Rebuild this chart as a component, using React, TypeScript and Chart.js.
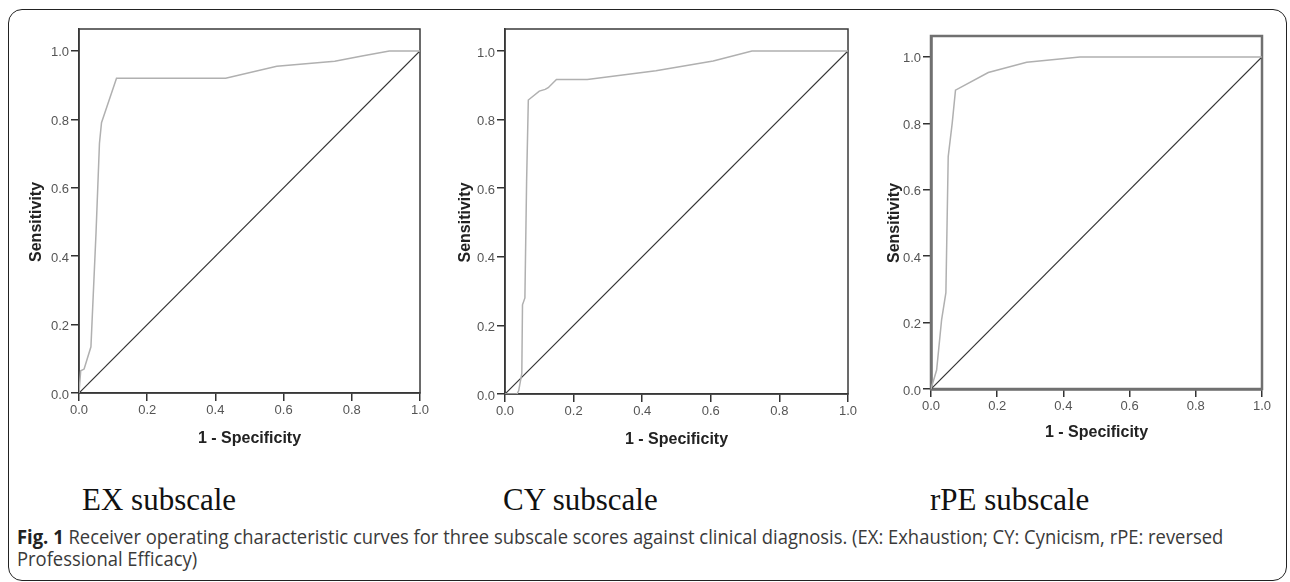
import React, { useEffect, useRef } from "react";
import { Chart, registerables } from "chart.js";

Chart.register(...registerables);

// ---- data ----
const X_TICKS = [0, 0.2, 0.4, 0.6, 0.8, 1.0];
const Y_TICKS = [0, 0.2, 0.4, 0.6, 0.8, 1.0];
const REF_LINE = [0, 1];

const EX_FPR = [0, 0.005, 0.015, 0.035, 0.05, 0.06, 0.066, 0.11, 0.43, 0.58, 0.75, 0.83, 0.91, 1.0];
const EX_TPR = [0, 0.065, 0.07, 0.135, 0.47, 0.73, 0.79, 0.92, 0.92, 0.955, 0.97, 0.985, 1.0, 1.0];

const CY_FPR = [0, 0.035, 0.04, 0.049, 0.051, 0.058, 0.063, 0.068, 0.1, 0.117, 0.126, 0.15, 0.24, 0.44, 0.607, 0.72, 1.0];
const CY_TPR = [0, 0, 0.01, 0.06, 0.26, 0.28, 0.62, 0.857, 0.883, 0.888, 0.893, 0.917, 0.917, 0.942, 0.971, 1.0, 1.0];

const RPE_FPR = [0, 0.017, 0.032, 0.045, 0.052, 0.064, 0.074, 0.173, 0.289, 0.45, 1.0];
const RPE_TPR = [0, 0.057, 0.208, 0.29, 0.7, 0.8, 0.9, 0.953, 0.984, 1.0, 1.0];

const Y_MAX = [1.064, 1.064, 1.063];

const X_TITLE = "1 - Specificity";
const Y_TITLE = "Sensitivity";
const SUBSCALE_LABELS = ["EX subscale", "CY subscale", "rPE subscale"];
const CAPTION_BOLD = "Fig. 1";
const CAPTION_LINE1 =
  " Receiver operating characteristic curves for three subscale scores against clinical diagnosis. (EX: Exhaustion; CY: Cynicism, rPE: reversed";
const CAPTION_LINE2 = "Professional Efficacy)";

// ---- layout (pixel geometry of each panel's plot frame) ----
type Box = {
  left: number;
  right: number;
  top: number;
  bottom: number;
  xTitleY: number;
  yTitleX: number;
  frameWidth: number;
  frameColor: string;
};

const PANELS: Box[] = [
  { left: 79, right: 420, top: 29, bottom: 393, xTitleY: 439, yTitleX: 37, frameWidth: 1.5, frameColor: "#3a3a3a" },
  { left: 505, right: 848, top: 29, bottom: 394, xTitleY: 440, yTitleX: 466, frameWidth: 1.5, frameColor: "#3a3a3a" },
  { left: 931, right: 1262, top: 36, bottom: 389, xTitleY: 433, yTitleX: 895, frameWidth: 2.5, frameColor: "#707070" },
];
const LABEL_LEFT = [82, 503, 930];

const PAD_L = 70;
const PAD_T = 20;
const PAD_R = 15;
const PAD_B = 70;

const TICK_FONT = { family: "'Liberation Sans', Arial, sans-serif", size: 13 };
const TITLE_FONT_SIZE = 16;

function RocPanel({ fpr, tpr, yMax, box }: { fpr: number[]; tpr: number[]; yMax: number; box: Box }) {
  const ref = useRef<HTMLCanvasElement>(null);
  const canvasLeft = box.left - PAD_L;
  const canvasTop = box.top - PAD_T;
  const canvasW = box.right + PAD_R - canvasLeft;
  const canvasH = box.bottom + PAD_B - canvasTop;

  useEffect(() => {
    if (!ref.current) return;
    const lineHeight = TITLE_FONT_SIZE * 1.2;
    const xTitlePadBottom = canvasTop + canvasH - box.xTitleY - lineHeight / 2;

    const framePlugin = {
      id: "frame" + box.left,
      beforeDatasetsDraw(chart: any) {
        const { ctx, chartArea } = chart;
        ctx.save();
        ctx.strokeStyle = box.frameColor;
        ctx.lineWidth = box.frameWidth;
        ctx.strokeRect(chartArea.left, chartArea.top, chartArea.right - chartArea.left, chartArea.bottom - chartArea.top);
        ctx.restore();
      },
      afterDraw(chart: any) {
        const { ctx } = chart;
        const ys = chart.scales.y;
        const cy = (ys.getPixelForValue(0) + ys.getPixelForValue(1)) / 2;
        ctx.save();
        ctx.translate(box.yTitleX - canvasLeft, cy);
        ctx.rotate(-Math.PI / 2);
        ctx.font = `bold ${TITLE_FONT_SIZE}px 'Liberation Sans', Arial, sans-serif`;
        ctx.textAlign = "center";
        ctx.textBaseline = "middle";
        ctx.fillStyle = "#222";
        ctx.fillText(Y_TITLE, 0, 0);
        ctx.restore();
      },
    };

    const chart = new Chart(ref.current, {
      type: "scatter",
      data: {
        datasets: [
          {
            data: fpr.map((x, i) => ({ x, y: tpr[i] })),
            showLine: true,
            borderColor: "#b0b0b0",
            backgroundColor: "#b0b0b0",
            borderWidth: 1.5,
            pointRadius: 0,
            tension: 0,
          },
          {
            data: REF_LINE.map((v) => ({ x: v, y: v })),
            showLine: true,
            borderColor: "#333333",
            backgroundColor: "#333333",
            borderWidth: 1.2,
            pointRadius: 0,
          },
        ],
      },
      options: {
        animation: false,
        responsive: false,
        maintainAspectRatio: false,
        events: [],
        layout: {
          padding: { left: 0, top: box.top - canvasTop, right: canvasLeft + canvasW - box.right, bottom: 0 },
        },
        plugins: { legend: { display: false }, tooltip: { enabled: false }, title: { display: false } },
        scales: {
          x: {
            type: "linear",
            position: "bottom",
            min: 0,
            max: 1,
            afterBuildTicks: (s: any) => {
              s.ticks = X_TICKS.map((v) => ({ value: v }));
            },
            afterFit: (s: any) => {
              s.height = canvasTop + canvasH - box.bottom;
            },
            ticks: {
              callback: (v: any) => Number(v).toFixed(1),
              font: TICK_FONT,
              color: "#555",
              padding: 2,
              maxRotation: 0,
              autoSkip: false,
            },
            grid: { display: true, drawOnChartArea: false, drawTicks: true, tickLength: 8, color: "#333", lineWidth: 1.5 },
            border: { display: true, color: "#333", width: box.frameWidth },
            title: {
              display: true,
              text: X_TITLE,
              color: "#222",
              font: { family: "'Liberation Sans', Arial, sans-serif", size: TITLE_FONT_SIZE, weight: "bold" },
              padding: { top: 0, bottom: xTitlePadBottom },
            },
          },
          y: {
            type: "linear",
            position: "left",
            min: 0,
            max: yMax,
            afterBuildTicks: (s: any) => {
              s.ticks = Y_TICKS.map((v) => ({ value: v }));
            },
            afterFit: (s: any) => {
              s.width = box.left - canvasLeft;
            },
            ticks: {
              callback: (v: any) => Number(v).toFixed(1),
              font: TICK_FONT,
              color: "#555",
              padding: 2,
              labelOffset: 2,
              autoSkip: false,
            },
            grid: { display: true, drawOnChartArea: false, drawTicks: true, tickLength: 8, color: "#333", lineWidth: 1.5 },
            border: { display: true, color: "#333", width: box.frameWidth },
            title: { display: false },
          },
        },
      },
      plugins: [framePlugin],
    } as any);
    return () => chart.destroy();
  }, []);

  return (
    <canvas
      ref={ref}
      width={canvasW}
      height={canvasH}
      style={{ position: "absolute", left: canvasLeft, top: canvasTop, width: canvasW, height: canvasH }}
    />
  );
}

export default function App() {
  const fprs = [EX_FPR, CY_FPR, RPE_FPR];
  const tprs = [EX_TPR, CY_TPR, RPE_TPR];
  return (
    <div
      style={{
        position: "absolute",
        left: 0,
        top: 0,
        width: 1290,
        height: 582,
        background: "#fff",
        overflow: "hidden",
      }}
    >
      <div
        style={{
          position: "absolute",
          left: 8,
          top: 9,
          width: 1279,
          height: 572,
          boxSizing: "border-box",
          border: "1.5px solid #222",
          borderRadius: 14,
        }}
      />
      {PANELS.map((b, i) => (
        <RocPanel key={i} fpr={fprs[i]} tpr={tprs[i]} yMax={Y_MAX[i]} box={b} />
      ))}
      {SUBSCALE_LABELS.map((t, i) => (
        <div
          key={t}
          style={{
            position: "absolute",
            left: LABEL_LEFT[i],
            top: 484,
            fontFamily: "'Liberation Serif', 'Times New Roman', serif",
            fontSize: 31,
            lineHeight: "31px",
            whiteSpace: "nowrap",
            color: "#111",
          }}
        >
          {t}
        </div>
      ))}
      <div
        style={{
          position: "absolute",
          left: 17,
          top: 526,
          fontFamily: "'Open Sans', sans-serif",
          fontSize: 20,
          lineHeight: "22px",
          whiteSpace: "nowrap",
          color: "#3a3a3a",
          transform: "scaleX(0.92)",
          transformOrigin: "0 0",
        }}
      >
        <b style={{ color: "#222" }}>{CAPTION_BOLD}</b>
        {CAPTION_LINE1}
        <br />
        {CAPTION_LINE2}
      </div>
    </div>
  );
}
